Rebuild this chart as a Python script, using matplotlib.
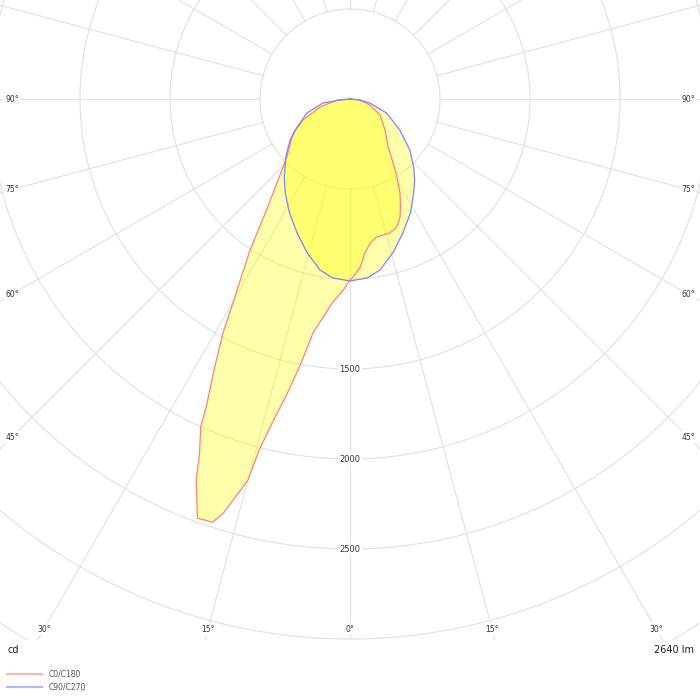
import numpy as np
import matplotlib
matplotlib.use("Agg")
import matplotlib.pyplot as plt

# C0/C180 curve: angle from nadir (deg, + = right), intensity (cd)
c0_angles = [90, 84, 73, 62, 48.5, 38.5, 34, 31, 28, 25, 23, 20, 16.5, 11, 8, 5.5, 3.5, 1, 0,
             -2, -5, -7, -9, -10.5, -12, -13.5, -14.5, -15, -17, -18, -20, -22, -23,
             -24.5, -25, -26.5, -28.5, -30, -33.5, -37, -44.5, -47.5, -52.5, -59, -66,
             -75, -85.5, -90]
c0_cd = [0, 56, 116, 189, 260, 340, 428, 506, 592, 663, 712, 758, 777, 781, 808, 860, 935, 989, 1006,
         1062, 1137, 1220, 1316, 1493, 1670, 1850, 2013, 2193, 2406, 2472, 2478, 2281, 2140,
         1999, 1891, 1702, 1479, 1292, 1006, 770, 530, 476, 420, 369, 286,
         172, 72, 0]

# C90/C270 curve
c90_angles = [90, 84, 78.5, 69, 58, 49.5, 43, 38.5, 34, 28, 21.5, 15.5, 10, 5.5, 0,
              -5.5, -10, -15.5, -21.5, -28, -34.5, -40, -48, -55.5, -62, -72, -81.5, -84, -90]
c90_cd = [0, 58, 113, 218, 327, 437, 519, 577, 632, 716, 801, 888, 964, 999, 1011,
          999, 964, 888, 801, 716, 635, 568, 480, 404, 333, 251, 152, 58, 0]

ring_values = [500, 1000, 1500, 2000, 2500, 3000, 3500]
ring_labels = [1500, 2000, 2500]
angle_labels = [0, 15, 30, 45, 60, 75, 90]
flux_text = "2640 lm"
legend_names = ["C0/C180", "C90/C270"]

scale = 0.18  # px per cd
fig = plt.figure(figsize=(7, 7), dpi=100)
ax = fig.add_axes([0, 60 / 700, 1, 640 / 700])
ax.set_xlim(-350 / scale, 350 / scale)
ax.set_ylim(-541 / scale, 99 / scale)
ax.axis("off")

grid_col = "#e0e0e0"
t = np.linspace(0, 2 * np.pi, 400)
for r in ring_values:
    ax.plot(r * np.sin(t), r * np.cos(t), color=grid_col, lw=0.8, zorder=1)
for a in range(0, 360, 15):
    ar = np.radians(a)
    ax.plot([500 * np.sin(ar), 5000 * np.sin(ar)], [-500 * np.cos(ar), -5000 * np.cos(ar)],
            color=grid_col, lw=0.8, zorder=1)


def to_xy(angles, cds):
    ar = np.radians(angles)
    cds = np.array(cds, dtype=float)
    return cds * np.sin(ar), -cds * np.cos(ar)


x0, y0 = to_xy(c0_angles, c0_cd)
x9, y9 = to_xy(c90_angles, c90_cd)
ax.fill(x0, y0, color="#ffff00", alpha=0.33, lw=0, zorder=2)
ax.fill(x9, y9, color="#ffff00", alpha=0.33, lw=0, zorder=2)
ax.plot(x0, y0, color="#ff7f7f", lw=0.9, zorder=3)
ax.plot(x9, y9, color="#8080ff", lw=0.9, zorder=3)

box = dict(facecolor="white", edgecolor="none", pad=1)
for v in ring_labels:
    ax.text(0, -v, str(v), fontsize=6, color="#333333", ha="center", va="center",
            bbox=box, zorder=5)

# angle labels where the radial lines leave the frame
side = 338 / scale
bottom = 530 / scale
for a in angle_labels:
    ar = np.radians(a)
    for sgn in ([1] if a == 0 else [-1, 1]):
        if a == 0:
            d = bottom
        else:
            d = min(side / np.sin(ar), bottom / np.cos(ar) if np.cos(ar) > 1e-9 else 1e9)
        ax.text(sgn * d * np.sin(ar), -d * np.cos(ar), f"{a}°", fontsize=5.5, color="#333333",
                ha="center", va="center", bbox=box, zorder=5)

fig.text(7 / 700, 1 - 650 / 700, "cd", fontsize=7, color="#222222", ha="left", va="center")
fig.text(694 / 700, 1 - 650 / 700, flux_text, fontsize=7, color="#222222", ha="right", va="center")

leg_cols = ["#ffb3b3", "#b3b3ff"]
for i, (name, col) in enumerate(zip(legend_names, leg_cols)):
    yy = 1 - (674 + 13 * i) / 700
    fig.add_artist(plt.Line2D([7 / 700, 42 / 700], [yy, yy], color=col, lw=1.5))
    fig.text(49 / 700, yy, name, fontsize=5.5, color="#555555", ha="left", va="center")

fig.savefig("out.png", dpi=100)
